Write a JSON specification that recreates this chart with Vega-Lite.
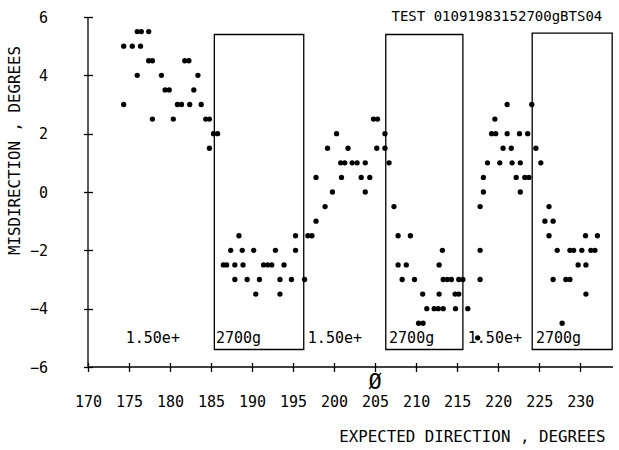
{
  "$schema": "https://vega.github.io/schema/vega-lite/v6.json",
  "width": 525,
  "height": 350,
  "autosize": {"type": "none"},
  "padding": {"left": 88, "top": 17, "right": 6, "bottom": 83},
  "background": "white",
  "config": {"view": {"stroke": null}, "font": "DejaVu Sans Mono"},
  "datasets": {
    "points": [
      {"x": 176.0, "y": 5.5}, {"x": 176.5, "y": 5.5}, {"x": 177.4, "y": 5.5},
      {"x": 174.35, "y": 5.0}, {"x": 175.4, "y": 5.0}, {"x": 176.4, "y": 5.0},
      {"x": 177.4, "y": 4.5}, {"x": 177.85, "y": 4.5}, {"x": 181.8, "y": 4.5}, {"x": 182.3, "y": 4.5},
      {"x": 176.0, "y": 4.0}, {"x": 178.95, "y": 4.0}, {"x": 183.4, "y": 4.0},
      {"x": 179.4, "y": 3.5}, {"x": 179.9, "y": 3.5}, {"x": 182.9, "y": 3.5},
      {"x": 174.35, "y": 3.0}, {"x": 180.9, "y": 3.0}, {"x": 181.4, "y": 3.0}, {"x": 182.4, "y": 3.0}, {"x": 183.8, "y": 3.0},
      {"x": 177.85, "y": 2.5}, {"x": 180.4, "y": 2.5}, {"x": 184.35, "y": 2.5}, {"x": 184.8, "y": 2.5},
      {"x": 185.3, "y": 2.0}, {"x": 185.8, "y": 2.0},
      {"x": 184.8, "y": 1.5},
      {"x": 188.4, "y": -1.5}, {"x": 195.3, "y": -1.5}, {"x": 196.8, "y": -1.5}, {"x": 197.3, "y": -1.5},
      {"x": 187.4, "y": -2.0}, {"x": 188.8, "y": -2.0}, {"x": 190.2, "y": -2.0}, {"x": 192.85, "y": -2.0}, {"x": 195.3, "y": -2.0},
      {"x": 186.5, "y": -2.5}, {"x": 186.9, "y": -2.5}, {"x": 187.9, "y": -2.5}, {"x": 188.9, "y": -2.5}, {"x": 191.4, "y": -2.5}, {"x": 191.9, "y": -2.5}, {"x": 192.4, "y": -2.5}, {"x": 193.9, "y": -2.5},
      {"x": 187.9, "y": -3.0}, {"x": 189.4, "y": -3.0}, {"x": 190.9, "y": -3.0}, {"x": 193.4, "y": -3.0}, {"x": 194.8, "y": -3.0}, {"x": 196.4, "y": -3.0},
      {"x": 190.45, "y": -3.5}, {"x": 193.4, "y": -3.5},
      {"x": 204.8, "y": 2.5}, {"x": 205.3, "y": 2.5},
      {"x": 200.3, "y": 2.0}, {"x": 206.2, "y": 2.0},
      {"x": 199.2, "y": 1.5}, {"x": 201.7, "y": 1.5}, {"x": 205.2, "y": 1.5}, {"x": 206.2, "y": 1.5},
      {"x": 200.8, "y": 1.0}, {"x": 201.3, "y": 1.0}, {"x": 202.2, "y": 1.0}, {"x": 202.8, "y": 1.0}, {"x": 203.8, "y": 1.0}, {"x": 206.7, "y": 1.0},
      {"x": 197.8, "y": 0.5}, {"x": 200.9, "y": 0.5}, {"x": 203.3, "y": 0.5}, {"x": 204.35, "y": 0.5},
      {"x": 199.8, "y": 0.0}, {"x": 203.8, "y": 0.0},
      {"x": 198.9, "y": -0.5},
      {"x": 197.8, "y": -1.0},
      {"x": 207.3, "y": -0.5},
      {"x": 207.8, "y": -1.5}, {"x": 209.3, "y": -1.5},
      {"x": 213.2, "y": -2.0},
      {"x": 207.8, "y": -2.5}, {"x": 208.8, "y": -2.5}, {"x": 212.8, "y": -2.5},
      {"x": 208.3, "y": -3.0}, {"x": 209.8, "y": -3.0}, {"x": 213.3, "y": -3.0}, {"x": 213.8, "y": -3.0}, {"x": 214.3, "y": -3.0}, {"x": 215.2, "y": -3.0}, {"x": 215.7, "y": -3.0},
      {"x": 210.8, "y": -3.5}, {"x": 212.8, "y": -3.5}, {"x": 214.75, "y": -3.5}, {"x": 215.2, "y": -3.5},
      {"x": 211.3, "y": -4.0}, {"x": 212.2, "y": -4.0}, {"x": 212.7, "y": -4.0}, {"x": 213.3, "y": -4.0}, {"x": 214.8, "y": -4.0}, {"x": 216.3, "y": -4.0},
      {"x": 210.3, "y": -4.5}, {"x": 210.85, "y": -4.5},
      {"x": 221.1, "y": 3.0}, {"x": 224.1, "y": 3.0},
      {"x": 219.6, "y": 2.5},
      {"x": 219.2, "y": 2.0}, {"x": 219.7, "y": 2.0}, {"x": 221.1, "y": 2.0}, {"x": 222.6, "y": 2.0}, {"x": 223.6, "y": 2.0},
      {"x": 220.6, "y": 1.5}, {"x": 221.6, "y": 1.5}, {"x": 224.6, "y": 1.5},
      {"x": 218.7, "y": 1.0}, {"x": 220.2, "y": 1.0}, {"x": 221.7, "y": 1.0}, {"x": 222.7, "y": 1.0}, {"x": 225.2, "y": 1.0},
      {"x": 218.2, "y": 0.5}, {"x": 222.2, "y": 0.5}, {"x": 223.25, "y": 0.5}, {"x": 223.75, "y": 0.5},
      {"x": 218.2, "y": 0.0}, {"x": 222.7, "y": 0.0},
      {"x": 217.8, "y": -0.5}, {"x": 226.2, "y": -0.5},
      {"x": 225.7, "y": -1.0}, {"x": 226.7, "y": -1.0},
      {"x": 226.2, "y": -1.5}, {"x": 230.65, "y": -1.5}, {"x": 232.1, "y": -1.5},
      {"x": 217.8, "y": -2.0}, {"x": 227.2, "y": -2.0}, {"x": 228.75, "y": -2.0}, {"x": 229.2, "y": -2.0}, {"x": 230.2, "y": -2.0}, {"x": 231.3, "y": -2.0}, {"x": 231.8, "y": -2.0},
      {"x": 229.75, "y": -2.5}, {"x": 230.7, "y": -2.5},
      {"x": 217.8, "y": -3.0}, {"x": 226.7, "y": -3.0}, {"x": 228.25, "y": -3.0}, {"x": 228.75, "y": -3.0},
      {"x": 230.7, "y": -3.5},
      {"x": 227.8, "y": -4.5},
      {"x": 217.5, "y": -5.0}
    ],
    "boxes": [
      {"x1": 185.4, "x2": 196.3, "y1": -5.4, "y2": 5.4},
      {"x1": 206.3, "x2": 215.7, "y1": -5.4, "y2": 5.4},
      {"x1": 224.15, "x2": 233.9, "y1": -5.4, "y2": 5.45}
    ],
    "labels": [
      {"x": 174.6, "y": -5.0, "label": "1.50e+"},
      {"x": 185.6, "y": -5.0, "label": "2700g"},
      {"x": 196.8, "y": -5.0, "label": "1.50e+"},
      {"x": 206.7, "y": -5.0, "label": "2700g"},
      {"x": 216.3, "y": -5.0, "label": "1.50e+"},
      {"x": 224.6, "y": -5.0, "label": "2700g"}
    ],
    "header": [
      {"x": 207.0, "y": 6.0, "label": "TEST   01091983152700gBTS04"}
    ],
    "marker": [
      {"x": 205.0, "y": -6.5, "label": "Ø"}
    ],
    "origin": [{"xo": 170, "yo": -6}]
  },
  "layer": [
    {
      "data": {"name": "boxes"},
      "mark": {"type": "rect", "fill": null, "stroke": "black", "strokeWidth": 1.3},
      "encoding": {
        "x": {
          "field": "x1", "type": "quantitative",
          "scale": {"domain": [170, 234], "nice": false, "zero": false},
          "axis": {
            "values": [170, 175, 180, 185, 190, 195, 200, 205, 210, 215, 220, 225, 230],
            "domain": false, "grid": false, "labelFlush": false, "labelOverlap": false,
            "tickSize": 9, "offset": -4.5, "tickColor": "black", "tickWidth": 1.3,
            "labelFontSize": 15, "labelColor": "black", "labelPadding": 30, "labelBaseline": "middle",
            "labelFont": "DejaVu Sans Mono",
            "title": "EXPECTED DIRECTION , DEGREES",
            "titleFont": "DejaVu Sans Mono", "titleFontSize": 15.8, "titleFontWeight": "normal", "titleColor": "black",
            "titleAlign": "right", "titleBaseline": "middle", "titleX": 517, "titleY": 74
          }
        },
        "x2": {"field": "x2"},
        "y": {
          "field": "y1", "type": "quantitative",
          "scale": {"domain": [-6, 6], "nice": false, "zero": false},
          "axis": {
            "values": [-6, -4, -2, 0, 2, 4, 6],
            "domain": false, "grid": false, "labelFlush": false, "labelOverlap": false,
            "tickSize": 9, "offset": -4.5, "tickColor": "black", "tickWidth": 1.3,
            "labelFontSize": 15, "labelColor": "black", "labelPadding": 36, "labelFont": "DejaVu Sans Mono",
            "title": "MISDIRECTION , DEGREES",
            "titleFont": "DejaVu Sans Mono", "titleFontSize": 15.8, "titleFontWeight": "normal", "titleColor": "black",
            "titleAngle": -90, "titleAlign": "center", "titleBaseline": "middle", "titleX": -78, "titleY": 133
          }
        },
        "y2": {"field": "y2"}
      }
    },
    {
      "data": {"name": "origin"},
      "mark": {"type": "rule", "color": "black", "strokeWidth": 1.3},
      "encoding": {"y": {"field": "yo", "type": "quantitative"}}
    },
    {
      "data": {"name": "origin"},
      "mark": {"type": "rule", "color": "black", "strokeWidth": 1.3},
      "encoding": {"x": {"field": "xo", "type": "quantitative"}}
    },
    {
      "data": {"name": "points"},
      "mark": {"type": "circle", "size": 28, "color": "black", "opacity": 1},
      "encoding": {
        "x": {"field": "x", "type": "quantitative"},
        "y": {"field": "y", "type": "quantitative"}
      }
    },
    {
      "data": {"name": "labels"},
      "mark": {"type": "text", "align": "left", "baseline": "middle", "fontSize": 15, "font": "DejaVu Sans Mono", "color": "black"},
      "encoding": {
        "x": {"field": "x", "type": "quantitative"},
        "y": {"field": "y", "type": "quantitative"},
        "text": {"field": "label"}
      }
    },
    {
      "data": {"name": "header"},
      "mark": {"type": "text", "align": "left", "baseline": "middle", "fontSize": 14, "font": "DejaVu Sans Mono", "color": "black"},
      "encoding": {
        "x": {"field": "x", "type": "quantitative"},
        "y": {"field": "y", "type": "quantitative"},
        "text": {"field": "label"}
      }
    },
    {
      "data": {"name": "marker"},
      "mark": {"type": "text", "align": "center", "baseline": "middle", "fontSize": 22, "font": "DejaVu Sans Mono", "color": "black"},
      "encoding": {
        "x": {"field": "x", "type": "quantitative"},
        "y": {"field": "y", "type": "quantitative"},
        "text": {"field": "label"}
      }
    }
  ]
}
